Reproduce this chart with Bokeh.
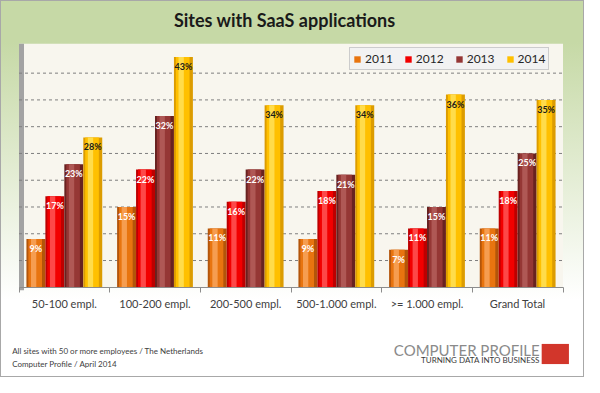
from bokeh.plotting import figure
from bokeh.models import (ColumnDataSource, Range1d, FixedTicker, Label, Legend,
                          LegendItem, BoxAnnotation)
from bokeh.transform import dodge
from bokeh.core.properties import value
from bokeh.embed import file_html
from bokeh.resources import INLINE

# ---------------- data ----------------
categories = ["50-100 empl.", "100-200 empl.", "200-500 empl.",
              "500-1.000 empl.", ">= 1.000 empl.", "Grand Total"]
years = ["2011", "2012", "2013", "2014"]
v2011 = [9, 15, 11, 9, 7, 11]
v2012 = [17, 22, 16, 18, 11, 18]
v2013 = [23, 32, 22, 21, 15, 25]
v2014 = [28, 43, 34, 34, 36, 35]
grid_values = [5, 10, 15, 20, 25, 30, 35, 40]
y_max = 45.5
title_text = "Sites with SaaS applications"
footer_lines = ["All sites with 50 or more employees / The Netherlands",
                "Computer Profile / April 2014"]
logo_main = "COMPUTER PROFILE"
logo_sub = "TURNING DATA INTO BUSINESS"

# ---------------- geometry ----------------
W, H = 584, 377
SX, SY = W / 600.0, H / 393.0
PL, PR, PT, PB = 18.5, 562.5, 43.2, 286.8   # plot area edges in canvas px
n = len(categories)
ux = (PR - PL) / n          # px per group
uy = (PB - PT) / y_max      # px per percent


def cx(xr):          # reference px -> canvas px (from left)
    return xr * SX


def cy(yr):          # reference px -> canvas px (from bottom)
    return H - yr * SY


FONT = "Lato"

series = [v2011, v2012, v2013, v2014]
main_c = ["#e8740f", "#f20000", "#953735", "#ffc000"]
dark_c = ["#b3550a", "#bd0000", "#682220", "#dc9c00"]
light_c = ["#f9a860", "#ff5a5a", "#b5605e", "#ffe25e"]
label_c = ["white", "white", "white", "#1a1a1a"]
offsets = [-0.3135, -0.1045, 0.1045, 0.3135]
bw = 0.209

data = {"x": [i + 0.5 for i in range(n)]}
for y, vals in zip(years, series):
    data["y" + y] = vals
    data["t" + y] = ["%d%%" % v for v in vals]
src = ColumnDataSource(data)

p = figure(width=W, height=H, output_backend="svg", toolbar_location=None,
           x_range=Range1d(-PL / ux, n + (W - PR) / ux),
           y_range=Range1d(-(H - PB) / uy, y_max + PT / uy),
           min_border=0, min_border_left=0, min_border_right=0,
           min_border_top=0, min_border_bottom=0,
           background_fill_color=None, border_fill_color=None,
           outline_line_color=None)
p.styles = {
    "background": "linear-gradient(to bottom, #c6d9a6 0px, #c6d9a6 42px, #ffffff 300px)",
    "box-shadow": "inset 0 0 0 1px #a8a8a8",
}

# plot area (cream wall) and left side wall
p.add_layout(BoxAnnotation(left=0, right=n, bottom=0, top=y_max,
                           fill_color="#f8f6ee", fill_alpha=1,
                           line_color=None, level="image"))
p.add_layout(BoxAnnotation(left=0, right=5 / ux, bottom=-3 / uy, top=y_max,
                           fill_color="#a3a3a3", fill_alpha=1,
                           line_color=None, level="image"))

# grid lines
p.xgrid.visible = False
p.ygrid.visible = False
p.segment(x0=0, x1=n, y0=grid_values, y1=grid_values,
          line_color="#7f7f7f", line_dash="3 3", line_width=1)

# axes
p.yaxis.visible = False
p.xaxis.fixed_location = 0
p.xaxis.bounds = (0, n)
p.xaxis.ticker = FixedTicker(ticks=data["x"], minor_ticks=list(range(n + 1)))
p.xaxis.major_label_overrides = {x: c for x, c in zip(data["x"], categories)}
p.xaxis.major_tick_line_color = None
p.xaxis.major_tick_out = 0
p.xaxis.major_tick_in = 0
p.xaxis.minor_tick_line_color = "#8c8c8c"
p.xaxis.minor_tick_out = 5
p.xaxis.minor_tick_in = 0
p.xaxis.axis_line_color = "#8c8c8c"
p.xaxis.major_label_standoff = 5
p.xaxis.major_label_text_font = FONT
p.xaxis.major_label_text_font_size = "11px"
p.xaxis.major_label_text_color = "#404040"

# bars
legend_items = []
for k, y in enumerate(years):
    off = offsets[k]
    p.vbar(x=dodge("x", off), top="y" + y, width=bw, source=src,
           fill_color=dark_c[k], line_color=None)
    r = p.vbar(x=dodge("x", off - 0.008), top="y" + y, width=bw * 0.72,
               source=src, fill_color=main_c[k], line_color=None)
    p.vbar(x=dodge("x", off - 0.025), top="y" + y, width=bw * 0.28,
           source=src, fill_color=light_c[k], fill_alpha=0.8, line_color=None)
    p.text(x=dodge("x", off), y="y" + y, text="t" + y, source=src,
           text_align="center", text_baseline="top", y_offset=4,
           text_font=value(FONT), text_font_style="bold",
           text_font_size="9px", text_color=label_c[k])
    legend_items.append(LegendItem(label=y, renderers=[r]))

legend = Legend(items=legend_items, orientation="horizontal",
                location=(round(cx(359)), round(cy(73))),
                glyph_width=8, glyph_height=8, label_standoff=4, spacing=11,
                padding=3, margin=0, label_height=12,
                label_text_font=FONT, label_text_font_size="12px",
                label_text_color="#262626",
                background_fill_color="#f2f2f2", background_fill_alpha=1,
                border_line_color="#a6a6a6", border_line_width=1)
p.add_layout(legend)

# title
p.add_layout(Label(x=cx(292), y=cy(20), x_units="screen", y_units="screen",
                   text=title_text, text_align="center", text_baseline="middle",
                   text_font=FONT, text_font_style="bold",
                   text_font_size="18px", text_color="#1a1a1a"))

# footer
for line, yr in zip(footer_lines, [365, 379]):
    p.add_layout(Label(x=cx(12), y=cy(yr), x_units="screen", y_units="screen",
                       text=line, text_align="left", text_baseline="middle",
                       text_font=FONT, text_font_size="8px",
                       text_color="#404040"))

# logo
p.add_layout(BoxAnnotation(left=cx(556), right=cx(584), top=cy(358),
                           bottom=cy(379), left_units="screen",
                           right_units="screen", top_units="screen",
                           bottom_units="screen", fill_color="#d2362b",
                           fill_alpha=1, line_color=None))
p.add_layout(Label(x=cx(554), y=cy(364), x_units="screen", y_units="screen",
                   text=logo_main, text_align="right", text_baseline="middle",
                   text_font=FONT, text_font_size="15px",
                   text_color="#8a8a8a"))
p.add_layout(Label(x=cx(554), y=cy(375), x_units="screen", y_units="screen",
                   text=logo_sub, text_align="right", text_baseline="middle",
                   text_font=FONT, text_font_size="8px",
                   text_color="#3a3a3a"))

open("out.html", "w").write(file_html(p, INLINE))
